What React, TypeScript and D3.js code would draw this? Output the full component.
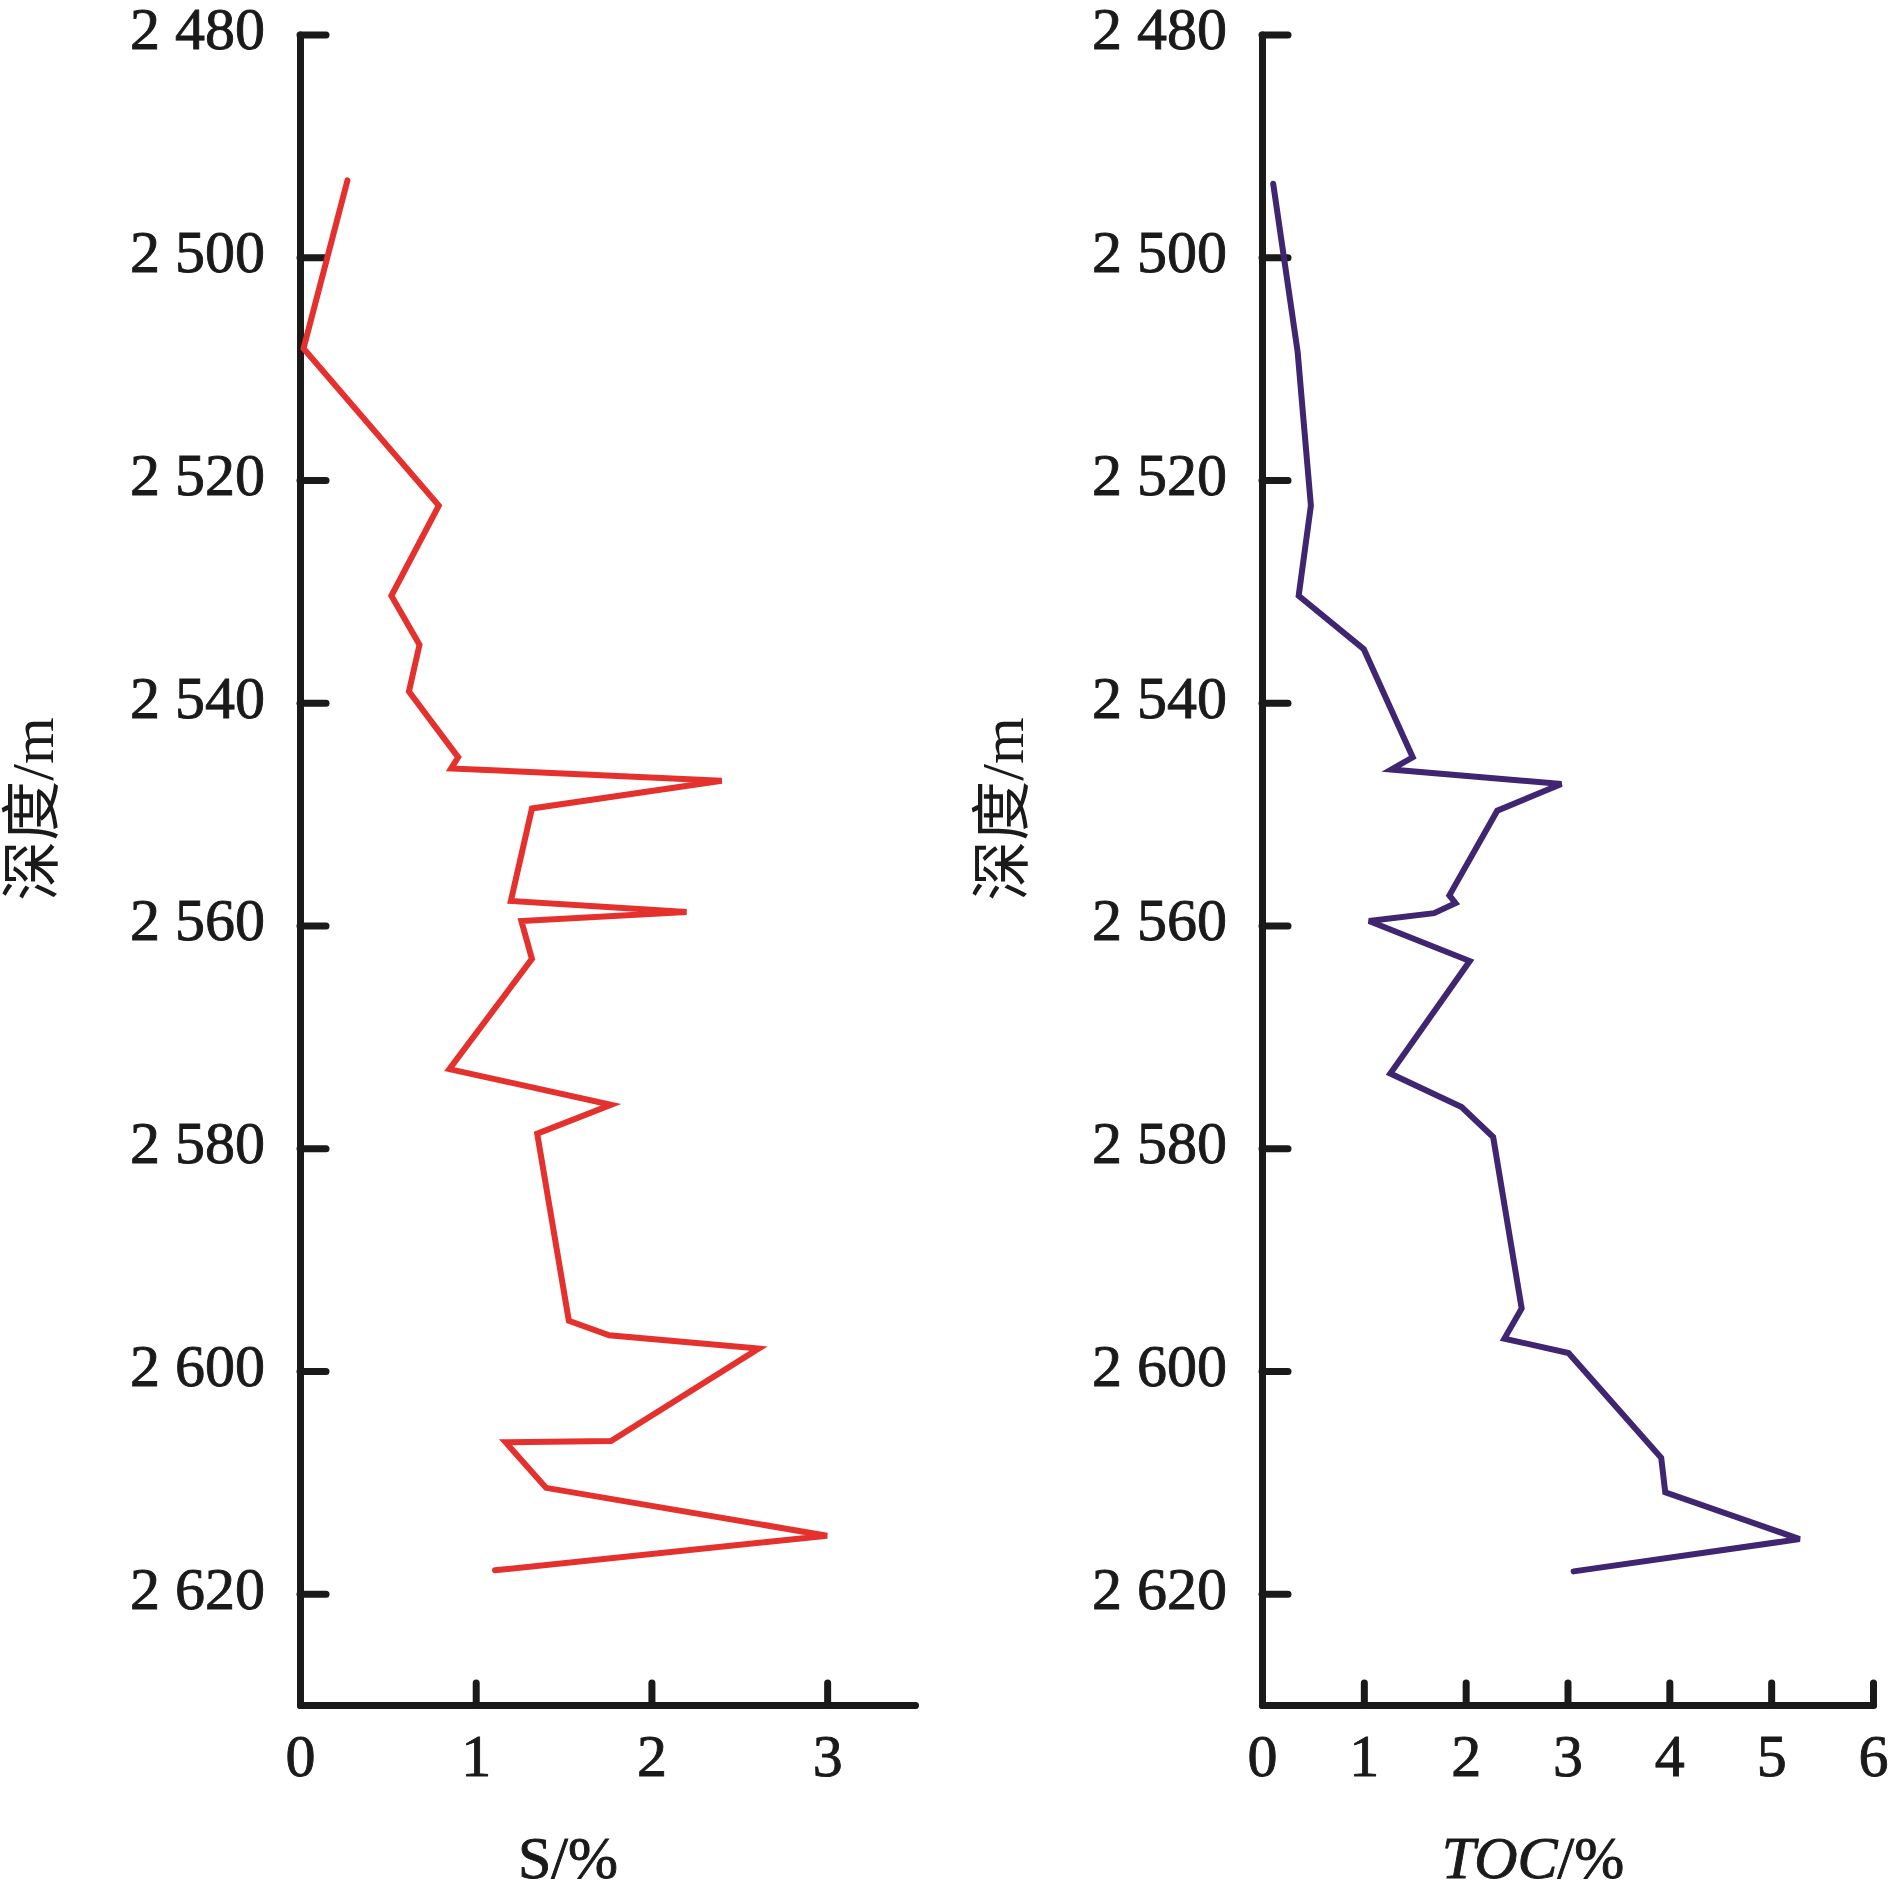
import * as d3 from "d3";
import { useEffect, useRef } from "react";

const sDepth = [
  2493.1, 2508.2, 2522.3, 2530.4, 2534.8, 2539.0, 2544.9, 2545.9, 2547.0, 2549.5, 2557.8, 2558.8,
  2559.6, 2563.0, 2572.9, 2576.1, 2578.7, 2595.5, 2596.8, 2598.0, 2606.3, 2606.4, 2610.5, 2614.8,
  2617.9,
];
const sValue = [
  0.27, 0.02, 0.79, 0.52, 0.68, 0.62, 0.9, 0.86, 2.4, 1.32, 1.2, 2.2, 1.26, 1.32, 0.85, 1.77, 1.35,
  1.53, 1.76, 2.61, 1.77, 1.17, 1.4, 3.0, 1.11,
];

const tocDepth = [
  2493.4, 2508.5, 2522.3, 2530.4, 2535.2, 2544.9, 2546.0, 2547.3, 2549.7, 2557.3, 2558.0, 2558.9,
  2559.6, 2563.2, 2573.3, 2576.3, 2579.0, 2594.4, 2597.1, 2598.4, 2607.8, 2610.9, 2615.1, 2618.0,
];
const tocValue = [
  0.11, 0.35, 0.48, 0.36, 1.0, 1.48, 1.27, 2.94, 2.31, 1.84, 1.9, 1.69, 1.05, 2.04, 1.26, 1.96, 2.27,
  2.55, 2.38, 3.01, 3.92, 3.96, 5.28, 3.06,
];

const depthTicks = [2480, 2500, 2520, 2540, 2560, 2580, 2600, 2620];
const sTicks = [0, 1, 2, 3];
const tocTicks = [0, 1, 2, 3, 4, 5, 6];

const FONT = "'Liberation Serif', 'Noto Sans CJK SC', serif";
const INK = "#1a1a1a";

export default function App() {
  const svgRef = useRef<SVGSVGElement | null>(null);

  useEffect(() => {
    if (!svgRef.current) return;
    const svg = d3.select(svgRef.current);
    svg.selectAll("*").remove();

    const width = 1890;
    const height = 1890;
    svg.attr("viewBox", `0 0 ${width} ${height}`);

    const y = d3.scaleLinear().domain([2480, 2630]).range([34.5, 1705]);
    const fmtDepth = (d: any) => `${Math.floor(d / 1000)} ${String(d % 1000).padStart(3, "0")}`;

    const drawPanel = (
      x0: number,
      x1: number,
      xMax: number,
      xTicks: number[],
      depths: number[],
      values: number[],
      color: string,
      yLabelX: number,
      xLabelX: number,
      italic: boolean,
      xLabelMain: string,
    ) => {
      const x = d3.scaleLinear().domain([0, xMax]).range([x0, x1]);

      const yAxisGroup = svg
        .append("g")
        .attr("transform", `translate(${x0},0)`)
        .call(
          d3
            .axisLeft(y)
            .tickValues(depthTicks)
            .tickSizeInner(-26)
            .tickSizeOuter(0)
            .tickPadding(35)
            .tickFormat(fmtDepth) as any,
        );

      const xAxisGroup = svg
        .append("g")
        .attr("transform", `translate(0,${y(2630)})`)
        .call(
          d3
            .axisBottom(x)
            .tickValues(xTicks)
            .tickSizeInner(-22)
            .tickSizeOuter(0)
            .tickPadding(28)
            .tickFormat((d: any) => String(d)) as any,
        );

      [yAxisGroup, xAxisGroup].forEach((g) => {
        g.selectAll("path")
          .attr("stroke", INK)
          .attr("stroke-width", 7)
          .attr("stroke-linecap", "round")
          .attr("stroke-linejoin", "round");
        g.selectAll("line")
          .attr("stroke", INK)
          .attr("stroke-width", 7)
          .attr("stroke-linecap", "round");
        g.selectAll("text")
          .attr("fill", INK)
          .attr("stroke", INK)
          .attr("stroke-width", 0.9)
          .attr("font-size", 60)
          .attr("font-family", FONT);
      });
      yAxisGroup.selectAll("text").attr("dy", "0.24em");

      const pts = depths.map((d, i) => ({ depth: d, v: values[i] }));
      const line = d3
        .line<{ depth: number; v: number }>()
        .x((d) => x(d.v))
        .y((d) => y(d.depth));

      svg
        .append("path")
        .datum(pts)
        .attr("fill", "none")
        .attr("stroke", color)
        .attr("stroke-width", 6)
        .attr("stroke-linejoin", "miter")
        .attr("stroke-linecap", "round")
        .attr("d", line as any);

      svg
        .append("text")
        .attr("transform", `translate(${yLabelX},809) rotate(-90)`)
        .attr("text-anchor", "middle")
        .attr("dominant-baseline", "central")
        .attr("font-size", 60)
        .attr("font-family", FONT)
        .attr("fill", INK)
        .text("深度/m");

      const xl = svg
        .append("text")
        .attr("x", xLabelX)
        .attr("y", 1878)
        .attr("text-anchor", "middle")
        .attr("font-size", 60)
        .attr("font-family", FONT)
        .attr("fill", INK)
        .attr("stroke", INK)
        .attr("stroke-width", 0.9);
      xl.append("tspan").attr("font-style", italic ? "italic" : "normal").text(xLabelMain);
      xl.append("tspan").text("/%");
    };

    drawPanel(300, 915, 3.5, sTicks, sDepth, sValue, "#e4312d", 33, 568, false, "S");
    drawPanel(1262, 1873, 6, tocTicks, tocDepth, tocValue, "#402670", 1003, 1533, true, "TOC");
  }, []);

  return (
    <svg
      ref={svgRef}
      width={1890}
      height={1890}
      style={{ position: "absolute", left: 0, top: 0, background: "#fff" }}
      aria-label="S and TOC depth profiles"
    />
  );
}
